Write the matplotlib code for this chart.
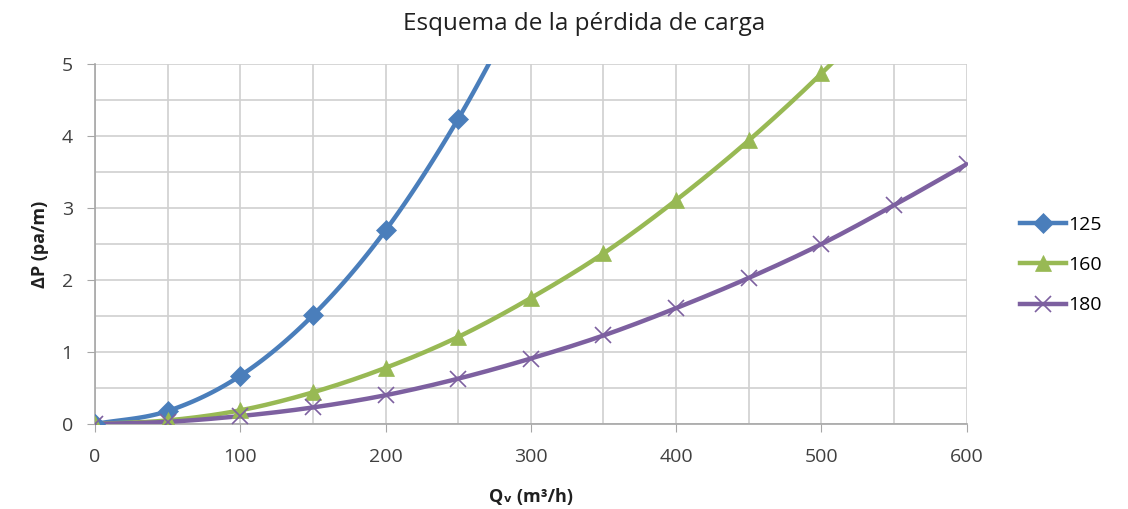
import numpy as np
import matplotlib
matplotlib.use("Agg")
import matplotlib.pyplot as plt

plt.rcParams['font.family'] = ['Open Sans', 'DejaVu Sans']

q_125 = [0, 50, 100, 150, 200, 250, 300]
dp_125 = [0.0, 0.18, 0.67, 1.51, 2.69, 4.24, 6.1]
q_160 = [0, 50, 100, 150, 200, 250, 300, 350, 400, 450, 500, 550]
dp_160 = [0.0, 0.05, 0.19, 0.44, 0.78, 1.21, 1.75, 2.37, 3.11, 3.94, 4.87, 5.9]
q_180 = [0, 50, 100, 150, 200, 250, 300, 350, 400, 450, 500, 550, 600]
dp_180 = [0.0, 0.03, 0.11, 0.23, 0.40, 0.63, 0.91, 1.23, 1.61, 2.03, 2.50, 3.04, 3.61]
labels = ['125', '160', '180']
colors = ['#4A7EBB', '#98B954', '#7D60A0']
markers = ['D', '^', 'x']

x_ticks = [0, 100, 200, 300, 400, 500, 600]
y_ticks = [0, 1, 2, 3, 4, 5]


def smooth(x, y, n=20):
    # Catmull-Rom curve through the points, for drawing the line only
    x = np.asarray(x, float); y = np.asarray(y, float)
    px = np.concatenate([[2 * x[0] - x[1]], x, [2 * x[-1] - x[-2]]])
    py = np.concatenate([[2 * y[0] - y[1]], y, [2 * y[-1] - y[-2]]])
    xs, ys = [], []
    t = np.linspace(0, 1, n, endpoint=False)
    for i in range(1, len(px) - 2):
        for arr, out in ((px, xs), (py, ys)):
            p0, p1, p2, p3 = arr[i - 1], arr[i], arr[i + 1], arr[i + 2]
            out.extend(0.5 * ((2 * p1) + (-p0 + p2) * t + (2 * p0 - 5 * p1 + 4 * p2 - p3) * t ** 2
                              + (-p0 + 3 * p1 - 3 * p2 + p3) * t ** 3))
    xs.append(x[-1]); ys.append(y[-1])
    return np.array(xs), np.array(ys)


fig = plt.figure(figsize=(11.28, 5.09), dpi=100)
ax = fig.add_axes([0.0842, 0.167, 0.857 - 0.0842, 0.874 - 0.167])

series = [(q_125, dp_125), (q_160, dp_160), (q_180, dp_180)]
handles = []
for (q, dp), lab, c, m in zip(series, labels, colors, markers):
    sx, sy = smooth(q, dp)
    ax.plot(sx, sy, color=c, lw=3.2, solid_capstyle='round', zorder=3)
    ms = 10 if m == 'D' else 11
    mew = 1.2 if m == 'x' else 0.5
    ax.plot(q, dp, linestyle='none', marker=m, color=c, markersize=ms,
            markeredgewidth=mew, zorder=4)
    h, = ax.plot([], [], color=c, lw=3.2, marker=m, markersize=ms, label=lab,
                 markeredgewidth=mew)
    handles.append(h)

ax.set_xlim(0, 600)
ax.set_ylim(0, 5)
ax.set_xticks(x_ticks)
ax.set_yticks(y_ticks)
ax.set_xticks(np.arange(0, 601, 50), minor=True)
ax.set_yticks(np.arange(0, 5.01, 0.5), minor=True)
ax.grid(True, which='both', color='#D0D0D0', lw=1.2)
ax.tick_params(which='minor', length=0)
ax.tick_params(which='major', length=6, color='#A6A6A6', labelsize=14, labelcolor='#404040')
ax.tick_params(axis='x', which='major', pad=11)
ax.tick_params(axis='y', which='major', pad=10)
for s in ['top', 'right']:
    ax.spines[s].set_visible(False)
for s in ['left', 'bottom']:
    ax.spines[s].set_color('#A6A6A6')
    ax.spines[s].set_linewidth(1.2)
ax.set_axisbelow(True)

fig.text(0.518, 1 - 24 / 509, 'Esquema de la pérdida de carga', fontsize=17.5,
         color='#202020', ha='center', va='center')
ax.set_xlabel('Qᵥ (m³/h)', fontsize=13, fontweight='bold', color='#202020', labelpad=16)
ax.set_ylabel('ΔP (pa/m)', fontsize=13, fontweight='bold', color='#202020', labelpad=9)

fig.legend(handles=handles, loc='center left', bbox_to_anchor=(0.892, 1 - 265 / 509),
           bbox_transform=fig.transFigure, frameon=False, fontsize=14,
           handlelength=2.4, labelspacing=1.15, handletextpad=0.1, borderpad=0.2)

fig.savefig('out.png', dpi=100)
